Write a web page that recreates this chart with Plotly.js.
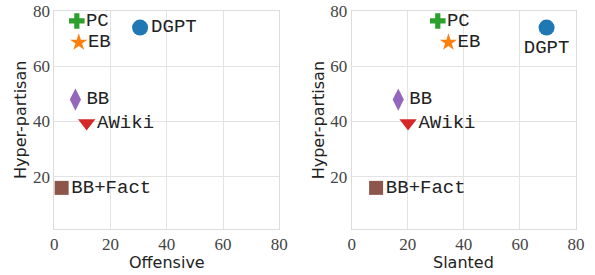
<!DOCTYPE html>
<html>
<head>
<meta charset="utf-8">
<script src="https://cdn.plot.ly/plotly-3.0.1.min.js"></script>
<style>html,body{margin:0;padding:0;background:#fff;}#chart{width:595px;height:275px;}</style>
</head>
<body>
<div id="chart"></div>
<script>
const models = ["DGPT", "EB", "PC", "AWiki", "BB", "BB+Fact"];
const offensive = [30.5, 8.7, 8.0, 11.5, 7.5, 2.6];
const slanted = [69.5, 34.5, 30.7, 20.1, 16.6, 8.7];
const hyperpartisan = [74, 68.6, 76.4, 39.4, 47.9, 15.9];
const colors = ["#1f77b4", "#ff7f0e", "#2ca02c", "#d62728", "#9467bd", "#8c564b"];
const symbols = ["circle", "star", "cross", "triangle-down", "diamond-tall", "square"];
const sizes = [16, 13, 13, 15, 16, 14];
const xTicks = [0, 20, 40, 60, 80];
const yTicks = [20, 40, 60, 80];
const xTitles = ["Offensive", "Slanted"];
const yTitle = "Hyper-partisan";

const labelFont = {family: "Liberation Mono, DejaVu Sans Mono, monospace", size: 19, color: "#222"};
const traces = [];
models.forEach((m, i) => {
  traces.push({
    x: [offensive[i]], y: [hyperpartisan[i]], xaxis: "x", yaxis: "y",
    type: "scatter", mode: "markers+text", text: [m], textposition: "middle right",
    textfont: labelFont, cliponaxis: false,
    marker: {symbol: symbols[i], size: sizes[i], color: colors[i], line: {width: 0}},
    showlegend: false, hoverinfo: "skip"
  });
  traces.push({
    x: [slanted[i]], y: [hyperpartisan[i]], xaxis: "x2", yaxis: "y2",
    type: "scatter", mode: "markers+text", text: [m],
    textposition: m === "DGPT" ? "bottom center" : "middle right",
    textfont: labelFont, cliponaxis: false,
    marker: {symbol: symbols[i], size: sizes[i], color: colors[i], line: {width: 0}},
    showlegend: false, hoverinfo: "skip"
  });
});

const tickFont = {family: "Liberation Serif, DejaVu Serif, serif", size: 17, color: "#444"};
const titleFont = {family: "DejaVu Sans, sans-serif", size: 16, color: "#222"};
function xax(domain, anchor) {
  return {domain: domain, range: [0, 80], tickvals: xTicks, ticktext: xTicks.map(String),
    showgrid: true, gridcolor: "#e3e3e3", gridwidth: 1, zeroline: false,
    showline: true, linecolor: "#dcdcdc", linewidth: 1, mirror: true, ticks: "",
    tickfont: tickFont, anchor: anchor};
}
function yax(anchor) {
  return {domain: [0.1673, 0.96], range: [1, 80], tickvals: yTicks, ticktext: yTicks.map(String),
    showgrid: true, gridcolor: "#e3e3e3", gridwidth: 1, zeroline: false,
    showline: true, linecolor: "#dcdcdc", linewidth: 1, mirror: true, ticks: "",
    tickfont: tickFont, anchor: anchor};
}
const xDom1 = [0.0913, 0.4694], xDom2 = [0.5911, 0.9681];
const annotations = [
  {text: xTitles[0], x: (xDom1[0] + xDom1[1]) / 2, y: 0.044},
  {text: xTitles[1], x: (xDom2[0] + xDom2[1]) / 2, y: 0.044},
  {text: yTitle, x: 0.0336, y: 0.5636, textangle: -90},
  {text: yTitle, x: 0.535, y: 0.5636, textangle: -90}
].map(a => Object.assign({xref: "paper", yref: "paper", xanchor: "center", yanchor: "middle",
  showarrow: false, font: titleFont}, a));

const layout = {
  width: 595, height: 275,
  margin: {l: 0, r: 0, t: 0, b: 0},
  paper_bgcolor: "#fff", plot_bgcolor: "#fff",
  xaxis: xax(xDom1, "y"),
  yaxis: yax("x"),
  xaxis2: xax(xDom2, "y2"),
  yaxis2: yax("x2"),
  annotations: annotations,
  showlegend: false
};
Plotly.newPlot("chart", traces, layout, {staticPlot: true, displayModeBar: false});
</script>
</body>
</html>
